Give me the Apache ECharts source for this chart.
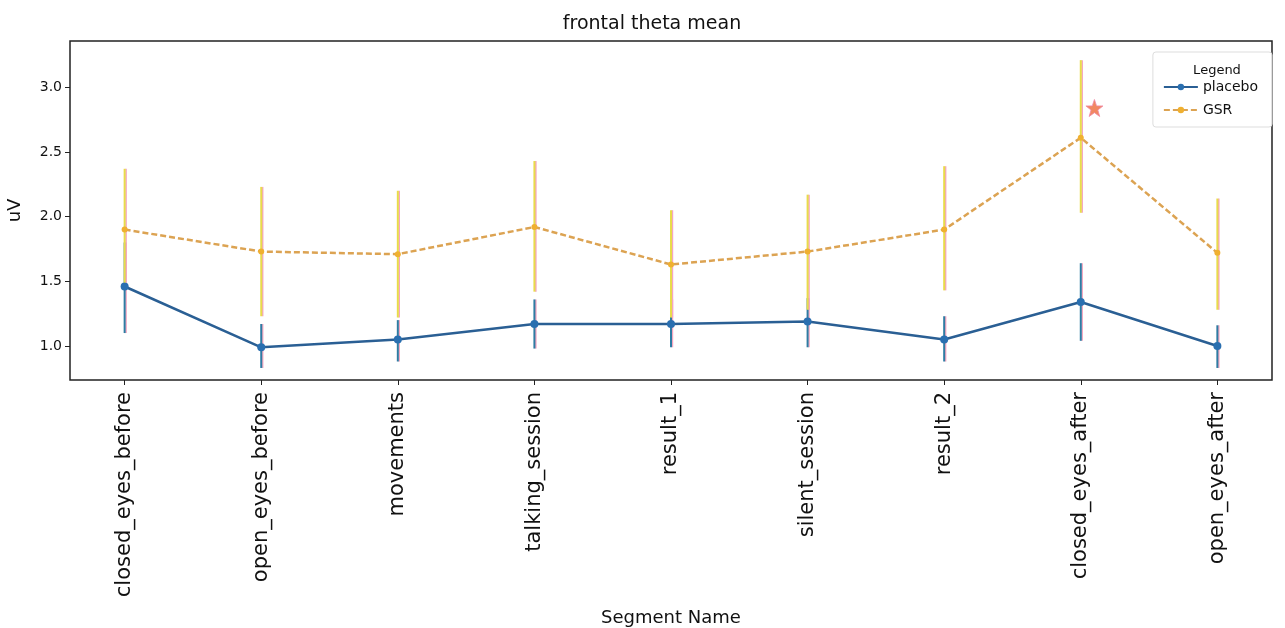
<!DOCTYPE html>
<html>
<head>
<meta charset="utf-8">
<script src="https://cdn.jsdelivr.net/npm/echarts@6/dist/echarts.min.js"></script>
<style>
html,body{margin:0;padding:0;background:#fff;}
#chart{width:1285px;height:628px;}
</style>
</head>
<body>
<div id="chart"></div>
<script>
const categories = ['closed_eyes_before','open_eyes_before','movements','talking_session','result_1','silent_session','result_2','closed_eyes_after','open_eyes_after'];
const placeboMean = [1.46, 0.99, 1.05, 1.17, 1.17, 1.19, 1.05, 1.34, 1.00];
const placeboLow  = [1.10, 0.83, 0.88, 0.98, 0.99, 0.99, 0.88, 1.04, 0.83];
const placeboHigh = [1.80, 1.17, 1.20, 1.36, 1.36, 1.37, 1.23, 1.64, 1.16];
const gsrMean = [1.90, 1.73, 1.71, 1.92, 1.63, 1.73, 1.90, 2.61, 1.72];
const gsrLow  = [1.49, 1.23, 1.22, 1.42, 1.22, 1.28, 1.43, 2.03, 1.28];
const gsrHigh = [2.37, 2.23, 2.20, 2.43, 2.05, 2.17, 2.39, 3.21, 2.14];
const sigMarker = [[7.1, 2.84]];
const yTicks = [1.0, 1.5, 2.0, 2.5, 3.0];
const seriesNames = ['placebo', 'GSR'];

const FONT = 'DejaVu Sans';
const idx = categories.map((c, i) => i);

function errSeries(name, low, high, mainColor, z) {
  return {
    type: 'custom',
    name: name + '_err',
    z: z,
    silent: true,
    data: idx.map(i => [i, low[i], high[i]]),
    encode: { x: 0, y: [1, 2] },
    renderItem: function (params, api) {
      const x = api.value(0);
      const p1 = api.coord([x, api.value(1)]);
      const p2 = api.coord([x, api.value(2)]);
      return {
        type: 'group',
        children: [
          { type: 'line', shape: { x1: p1[0] + 1.4, y1: p1[1], x2: p2[0] + 1.4, y2: p2[1] }, style: { stroke: '#f4a6c0', lineWidth: 1.6 } },
          { type: 'line', shape: { x1: p1[0], y1: p1[1], x2: p2[0], y2: p2[1] }, style: { stroke: mainColor, lineWidth: 2 } }
        ]
      };
    }
  };
}

const chart = echarts.init(document.getElementById('chart'));
chart.setOption({
  animation: false,
  backgroundColor: '#ffffff',
  textStyle: { fontFamily: FONT },
  title: [
    { text: 'frontal theta mean', left: 647, top: 10, textAlign: 'center',
      textStyle: { fontFamily: FONT, fontSize: 19, fontWeight: 'normal', color: '#111' } },
    { text: 'Legend', left: 1212, top: 59, textAlign: 'center',
      textStyle: { fontFamily: FONT, fontSize: 13, fontWeight: 'normal', color: '#111' }, z: 20 }
  ],
  grid: { left: 70, right: 13, top: 41, bottom: 248, outerBoundsMode: 'none', containLabel: false, show: true, borderColor: '#222', borderWidth: 1.5, backgroundColor: 'transparent' },
  legend: {
    data: seriesNames,
    orient: 'vertical',
    right: 13,
    top: 52,
    padding: [28, 14, 10, 10],
    itemGap: 9,
    itemWidth: 34,
    itemHeight: 8,
    backgroundColor: 'rgba(255,255,255,0.85)',
    borderColor: '#dddddd',
    borderWidth: 1,
    borderRadius: 3,
    textStyle: { fontFamily: FONT, fontSize: 14, color: '#111' }
  },
  xAxis: {
    type: 'value',
    min: -0.4,
    max: 8.4,
    splitLine: { show: false },
    axisLine: { show: false, onZero: false },
    axisTick: { show: true, customValues: idx, length: 5, lineStyle: { color: '#222' } },
    axisLabel: {
      customValues: idx,
      rotate: 90,
      fontFamily: FONT,
      fontSize: 21,
      color: '#111',
      margin: 12,
      formatter: v => categories[Math.round(v)]
    },
    name: 'Segment Name',
    nameLocation: 'middle',
    nameGap: 229,
    nameTextStyle: { fontFamily: FONT, fontSize: 18, color: '#111' }
  },
  yAxis: {
    type: 'value',
    min: 0.737,
    max: 3.358,
    splitLine: { show: false },
    axisLine: { show: false, onZero: false },
    axisTick: { show: true, customValues: yTicks, length: 5, lineStyle: { color: '#222' } },
    axisLabel: {
      customValues: yTicks,
      fontFamily: FONT,
      fontSize: 14,
      color: '#111',
      margin: 8,
      formatter: v => v.toFixed(1)
    },
    name: 'uV',
    nameLocation: 'middle',
    nameGap: 46,
    nameRotate: 90,
    nameTextStyle: { fontFamily: FONT, fontSize: 18, color: '#111' }
  },
  series: [
    errSeries('placebo', placeboLow, placeboHigh, '#2f7ca3', 2),
    {
      type: 'line',
      name: 'placebo',
      z: 3,
      data: idx.map(i => [i, placeboMean[i]]),
      symbol: 'circle',
      symbolSize: 8,
      lineStyle: { color: '#2a5f94', width: 2.5 },
      itemStyle: { color: '#2a6fb0' }
    },
    errSeries('GSR', gsrLow, gsrHigh, '#e8dc4a', 4),
    {
      type: 'line',
      name: 'GSR',
      z: 5,
      data: idx.map(i => [i, gsrMean[i]]),
      symbol: 'circle',
      symbolSize: 6,
      lineStyle: { color: '#dca352', width: 2.5, type: [6, 3] },
      itemStyle: { color: '#f0b030' }
    },
    {
      type: 'scatter',
      name: 'sig',
      z: 6,
      data: sigMarker,
      symbol: 'path://M0,-10 L2.4,-3.2 L9.5,-3.1 L3.8,1.2 L5.9,8.1 L0,4 L-5.9,8.1 L-3.8,1.2 L-9.5,-3.1 L-2.4,-3.2 Z',
      symbolSize: 17,
      itemStyle: { color: '#ee6a3a', borderColor: '#f08aa8', borderWidth: 1 }
    }
  ]
});
</script>
</body>
</html>
